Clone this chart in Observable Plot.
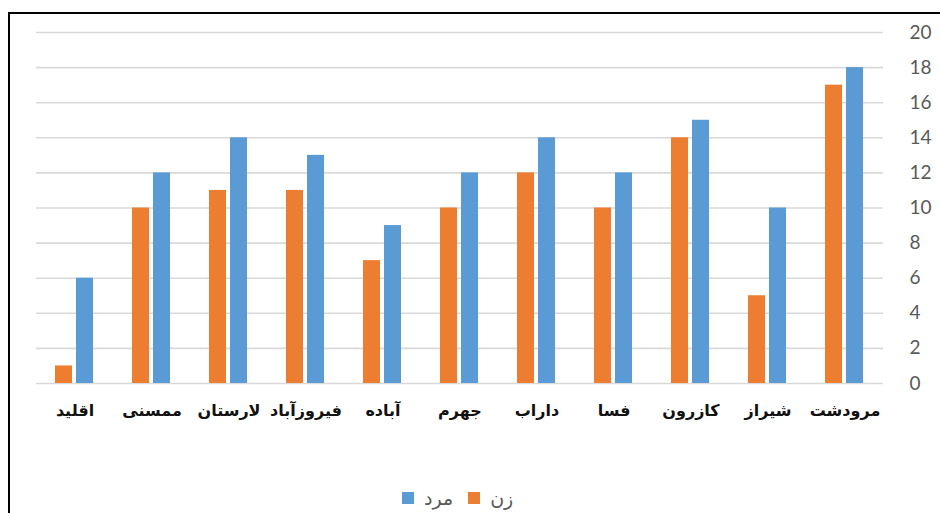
<!DOCTYPE html>
<html><head><meta charset="utf-8">
<script src="https://cdn.jsdelivr.net/npm/d3@7"></script>
<script src="https://cdn.jsdelivr.net/npm/@observablehq/plot@0.6"></script>
<style>
body{margin:0;background:#fff;font-family:"DejaVu Sans",sans-serif;}
#wrap{position:relative;width:940px;height:513px;overflow:hidden;}
#border{position:absolute;left:8px;top:12px;width:1000px;height:600px;border-top:2px solid #000;border-left:2px solid #000;box-sizing:border-box;}
#chart{position:absolute;left:0;top:0;}
#legend{position:absolute;left:402px;top:484px;height:28px;display:flex;align-items:center;direction:ltr;color:#595959;font-size:19px;font-family:"DejaVu Sans",sans-serif;}
#legend .sw{width:12px;height:12px;display:inline-block;margin-right:10px;}
#legend .lab{margin-right:15px;}
</style>
</head><body>
<div id="wrap"><div id="border"></div><div id="chart"></div><div id="legend"></div></div>
<script>
const cities = ["اقلید","ممسنی","لارستان","فیروزآباد","آباده","جهرم","داراب","فسا","کازرون","شیراز","مرودشت"];
const women = [1,10,11,11,7,10,12,10,14,5,17];
const men = [6,12,14,13,9,12,14,12,15,10,18];
const series = ["زن","مرد"];
const colors = ["#ED7D31","#5B9BD5"];
const yTicks = [0,2,4,6,8,10,12,14,16,18,20];

const data = [];
cities.forEach((c,i)=>{
  data.push({city:c, sex:series[0], value:women[i]});
  data.push({city:c, sex:series[1], value:men[i]});
});

const chart = Plot.plot({
  width:940, height:440,
  marginLeft:32, marginRight:54, marginTop:32, marginBottom:57,
  style:{background:"transparent", fontFamily:"DejaVu Sans, sans-serif"},
  fx:{domain:cities, padding:0, label:null, axis:null},
  x:{domain:series, padding:0.18, paddingOuter:0.92, axis:null},
  y:{domain:[0,20], axis:null},
  color:{domain:series, range:colors},
  marks:[
    Plot.ruleY(yTicks,{stroke:"#d9d9d9", strokeWidth:1.6}),
    Plot.barY(data,{fx:"city", x:"sex", y:"value", fill:"sex"}),
    Plot.axisY({anchor:"right", ticks:yTicks, tickSize:0, tickPadding:26, fontSize:19, fill:"#595959", label:null, fontFamily:"Lato, sans-serif"}),
    Plot.axisFx({anchor:"bottom", tickSize:0, tickPadding:21, fontSize:16, fontWeight:"bold", fill:"#111", label:null})
  ]
});
document.getElementById("chart").appendChild(chart);

const legend = document.getElementById("legend");
[[1],[0]].forEach(([k])=>{
  const sw = document.createElement("span"); sw.className="sw"; sw.style.background=colors[k];
  const lab = document.createElement("span"); lab.className="lab"; lab.textContent=series[k];
  legend.appendChild(sw); legend.appendChild(lab);
});
</script>
</body></html>
